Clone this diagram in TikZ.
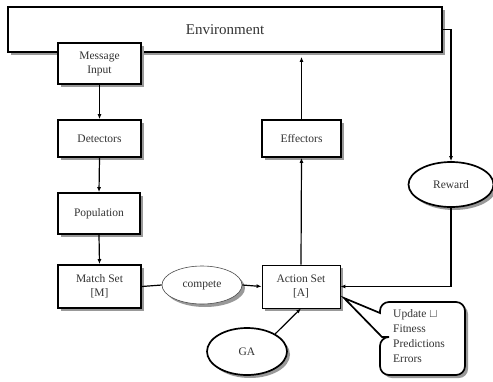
\documentclass[tikz,border=0pt]{standalone}
\usepackage{fontspec}
\setmainfont{Liberation Serif}
\usetikzlibrary{shapes.geometric,arrows.meta,shadows}
\begin{document}
\begin{tikzpicture}[x=1pt,y=-1pt,
  shd/.style={drop shadow={shadow xshift=3pt,shadow yshift=-3pt,fill=black!40,opacity=1}},
  boxthick/.style={draw,line width=1.7pt,fill=white,shd,inner sep=0pt,align=center,font=\fontsize{11.5}{14}\selectfont,text=black!80},
  boxthin/.style={draw,line width=0.8pt,fill=white,shd,inner sep=0pt,align=center,font=\fontsize{11.5}{14}\selectfont,text=black!80},
  ell/.style={ellipse,draw,line width=1.7pt,fill=white,shd,inner sep=0pt,font=\fontsize{11.5}{14}\selectfont,text=black!80},
  conn/.style={line width=1.2pt},
  arr/.style={conn,-{Latex[length=5pt,width=4pt]}}]
\useasboundingbox (0,0) rectangle (493,381);
% environment
\node[boxthick,minimum width=434pt,minimum height=45pt,font=\fontsize{15}{18}\selectfont] (env) at (225,29.5) {Environment};
\node[boxthick,minimum width=83pt,minimum height=41pt] (msg) at (99.5,63.5) {Message\\Input};
\node[boxthick,minimum width=83pt,minimum height=37pt] (det) at (99.5,138.5) {Detectors};
\node[boxthick,minimum width=82pt,minimum height=41pt] (pop) at (99,213.5) {Population};
\node[boxthick,minimum width=83pt,minimum height=43pt] (match) at (99.5,286.5) {Match Set\\{}[M]};
\node[ell,line width=0.6pt,draw=black!70,minimum width=80pt,minimum height=38pt] (comp) at (202,285) {compete};
\node[boxthin,minimum width=78pt,minimum height=43pt] (act) at (301,286.5) {Action Set\\{}[A]};
\node[boxthick,minimum width=79pt,minimum height=37pt] (eff) at (301.5,138.5) {Effectors};
\node[ell,minimum width=85pt,minimum height=45pt] (rew) at (451,184.5) {Reward};
\node[ell,minimum width=80pt,minimum height=47pt] (ga) at (247,351.5) {GA};
% callout
\draw[line width=1.7pt,fill=white,shd] (382,337) -- (344,298) -- (380,313) [rounded corners=9pt] -- (380,302) -- (465,302) -- (465,375) -- (380,375) -- (380,337) [sharp corners] -- cycle;
\node[anchor=north west,inner sep=0pt,align=left,font=\fontsize{11.5}{15}\selectfont,text=black!80] (cal) at (393,309) {Update $\sqcup$\\Fitness\\Predictions\\Errors};
% connectors
\draw[arr] (msg.south) -- (det.north);
\draw[arr] (det.south) -- (pop.north);
\draw[arr] (pop.south) -- (match.north);
\draw[conn] (match.east) -- (comp.west);
\draw[arr] (comp.east) -- (act.west);
\draw[arr] (act.north) -- (eff.south);
\coordinate (envin) at ([yshift=-4pt]env.south -| eff.north);
\draw[arr] (eff.north) -- (envin);
\draw[arr] (env.east) -| (rew.north);
\draw[arr] (rew.south) |- (act.east);
\draw[arr] (ga.32) -- (act.south);
\end{tikzpicture}
\end{document}
